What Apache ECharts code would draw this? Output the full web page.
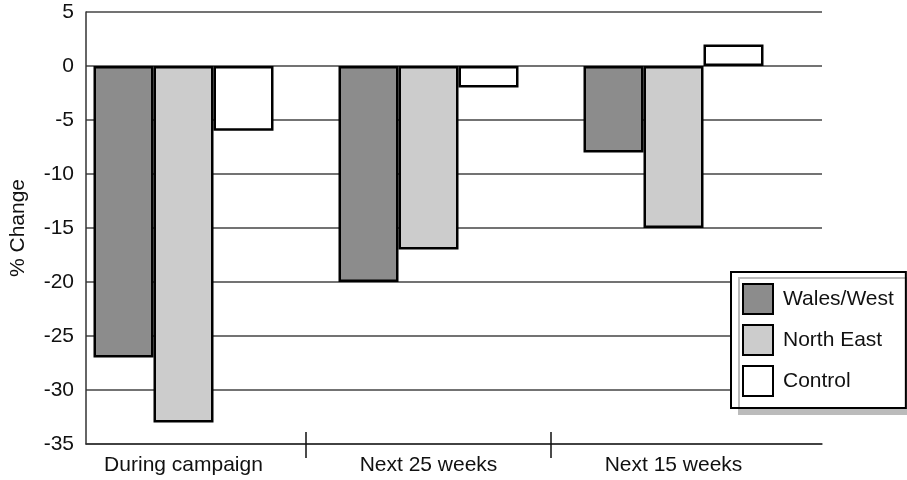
<!DOCTYPE html>
<html>
<head>
<meta charset="utf-8">
<script src="https://cdn.jsdelivr.net/npm/echarts@6/dist/echarts.min.js"></script>
<style>html,body{margin:0;padding:0;background:#fff}#c{width:907px;height:480px}</style>
</head>
<body>
<div id="c"></div>
<script>
var categories = ['During campaign', 'Next 25 weeks', 'Next 15 weeks'];
var walesWest = [-27, -20, -8];
var northEast = [-33, -17, -15];
var control = [-6, -2, 2];
var yTicks = { min: -35, max: 5, interval: 5 };

var FONT = 'Liberation Sans';
var FS = 21;
var chart = echarts.init(document.getElementById('c'), null, { renderer: 'canvas' });

function barSeries(name, data, color) {
  return {
    name: name, type: 'bar', data: data, xAxisIndex: 1, yAxisIndex: 1,
    barWidth: 60, barGap: '0%',
    itemStyle: { color: color, borderColor: '#000', borderWidth: 2.5 },
    emphasis: { disabled: true }, animation: false
  };
}

chart.setOption({
  animation: false,
  textStyle: { fontFamily: FONT },
  grid: [
    { left: 84, right: 85, top: 12, bottom: 36, containLabel: false },
    { left: 61, right: 111, top: 12, bottom: 36, containLabel: false }
  ],
  xAxis: [
    { gridIndex: 0, type: 'value', min: 0, max: 1, axisLine: { show: true, onZero: false, lineStyle: { color: '#333', width: 1.5 } },
      axisTick: { show: false }, axisLabel: { show: false }, splitLine: { show: false } },
    { gridIndex: 1, type: 'category', data: categories, axisLine: { show: false }, axisTick: { show: false },
      axisLabel: { fontSize: FS, color: '#111', margin: 11, fontFamily: FONT } },
    { gridIndex: 1, type: 'value', min: 0, max: 3, interval: 3, position: 'bottom',
      axisLine: { show: false }, axisLabel: { show: false }, splitLine: { show: false },
      axisTick: { show: false, inside: false },
      minorTick: { show: true, splitNumber: 3, length: 14, lineStyle: { color: '#111', width: 1.5 } } },
    { gridIndex: 1, type: 'value', min: 0, max: 3, interval: 3, position: 'bottom',
      axisLine: { show: false }, axisLabel: { show: false }, splitLine: { show: false },
      axisTick: { show: false, inside: true },
      minorTick: { show: true, splitNumber: 3, length: 12, lineStyle: { color: '#111', width: 1.5 } } }
  ],
  yAxis: [
    { gridIndex: 0, type: 'value', min: yTicks.min, max: yTicks.max, interval: yTicks.interval,
      name: '% Change', nameLocation: 'middle', nameGap: 57,
      nameTextStyle: { fontSize: FS, color: '#111', fontFamily: FONT },
      axisLine: { show: true, lineStyle: { color: '#333', width: 1.5 } },
      axisTick: { show: false },
      axisLabel: { fontSize: FS, color: '#111', margin: 12, fontFamily: FONT },
      splitLine: { show: true, lineStyle: { color: '#444', width: 1.5 } } },
    { gridIndex: 1, type: 'value', min: yTicks.min, max: yTicks.max, interval: yTicks.interval,
      axisLine: { show: false }, axisTick: { show: false }, axisLabel: { show: false }, splitLine: { show: false } }
  ],
  legend: {
    orient: 'vertical', left: 731, top: 272,
    backgroundColor: '#fff', borderColor: '#000', borderWidth: 2,
    padding: [11, 12, 11, 11],
    shadowColor: '#bbb', shadowBlur: 0, shadowOffsetX: 8, shadowOffsetY: 6,
    itemWidth: 30, itemHeight: 30, itemGap: 9, icon: 'rect',
    textStyle: { fontSize: FS, color: '#111', fontFamily: FONT, padding: [0, 0, 0, 5] },
    selectedMode: false,
    data: ['Wales/West', 'North East', 'Control']
  },
  series: [
    barSeries('Wales/West', walesWest, '#8c8c8c'),
    barSeries('North East', northEast, '#cccccc'),
    barSeries('Control', control, '#ffffff')
  ]
});
</script>
</body>
</html>
